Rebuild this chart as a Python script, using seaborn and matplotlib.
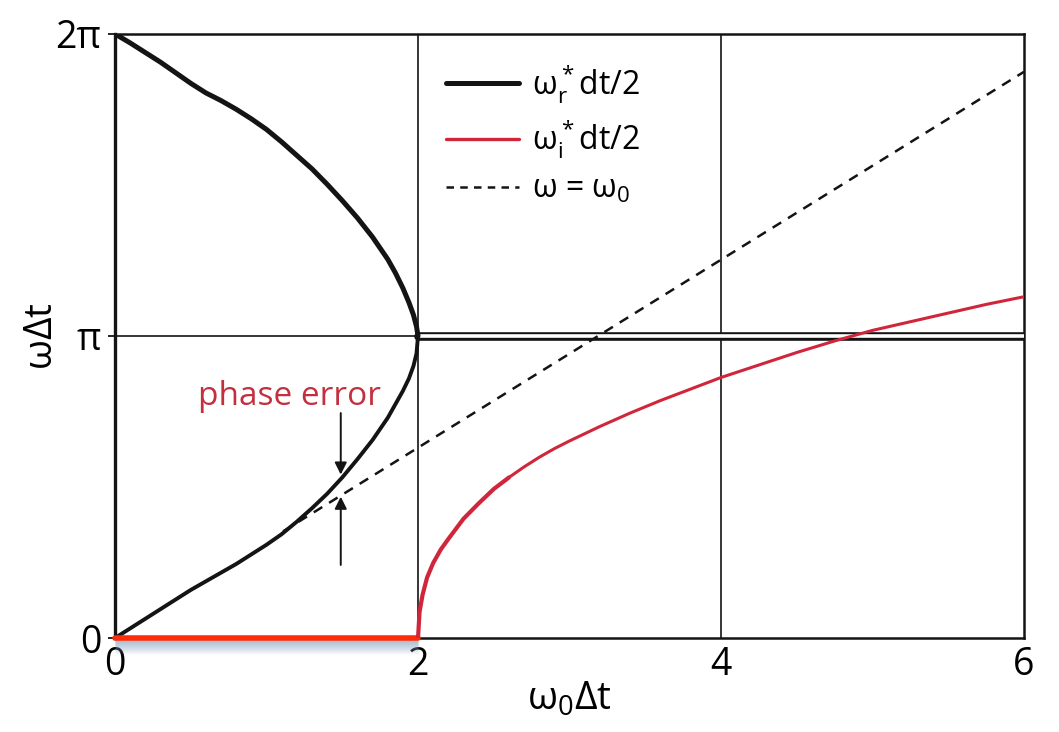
import numpy as np
import matplotlib
matplotlib.use("Agg")
import matplotlib.pyplot as plt
import seaborn as sns
from matplotlib import transforms
from matplotlib.lines import Line2D

# --- data ---------------------------------------------------------------
# real part (omega_r * dt/2), below the critical value omega0*dt = 2
wr_lower_x = [0.0, 0.1, 0.2, 0.3, 0.4, 0.5, 0.6, 0.7, 0.8, 0.9, 1.0, 1.1, 1.2, 1.3,
              1.4, 1.5, 1.6, 1.7, 1.8, 1.85, 1.9, 1.94, 1.97, 1.99, 2.0]
wr_lower_y = [0.0, 0.10, 0.20, 0.30, 0.40, 0.50, 0.59, 0.68, 0.77, 0.87, 0.97, 1.08, 1.21, 1.35,
              1.50, 1.67, 1.86, 2.06, 2.29, 2.43, 2.57, 2.70, 2.83, 2.96, np.pi]
wr_upper_x = [2.0, 1.99, 1.97, 1.94, 1.9, 1.85, 1.8, 1.7, 1.6, 1.5, 1.4, 1.3, 1.2, 1.1,
              1.0, 0.9, 0.8, 0.7, 0.6, 0.5, 0.4, 0.3, 0.2, 0.1, 0.0]
wr_upper_y = [np.pi, 3.24, 3.36, 3.49, 3.64, 3.80, 3.94, 4.17, 4.37, 4.55, 4.72, 4.88, 5.02, 5.16,
              5.29, 5.40, 5.50, 5.59, 5.67, 5.77, 5.88, 5.99, 6.09, 6.19, 2 * np.pi]
# above the critical value the real part stays at pi
wr_flat_x = [2.0, 6.0]
wr_flat_y = [np.pi, np.pi]

# imaginary part (omega_i * dt/2)
wi_zero_x = [0.0, 2.0]
wi_zero_y = [0.0, 0.0]
wi_x = [2.0, 2.01, 2.03, 2.06, 2.1, 2.15, 2.2, 2.3, 2.4, 2.5, 2.6, 2.7, 2.8, 2.9, 3.0,
        3.2, 3.4, 3.6, 3.8, 4.0, 4.25, 4.5, 4.75, 5.0, 5.25, 5.5, 5.75, 6.0]
wi_y = [0.0, 0.27, 0.45, 0.63, 0.78, 0.92, 1.03, 1.24, 1.40, 1.55, 1.67, 1.78, 1.88, 1.97, 2.05,
        2.20, 2.34, 2.47, 2.59, 2.71, 2.84, 2.97, 3.09, 3.20, 3.29, 3.38, 3.47, 3.55]

# exact dispersion omega = omega0
ref_x = [1.11, 6.0]
ref_y = [1.11, 5.89]

# phase-error markers
err_x = 1.49
err_top = [2.34, 1.70]
err_bottom = [0.76, 1.47]

x_ticks = [0, 2, 4, 6]
y_ticks = [0, np.pi, 2 * np.pi]
y_ticklabels = ["0", "π", "2π"]
grid_x = [2, 4]
grid_y = [np.pi]

# --- style --------------------------------------------------------------
sns.set_theme(style="white")
plt.rcParams["font.family"] = ["Open Sans", "DejaVu Sans"]
plt.rcParams["mathtext.fontset"] = "custom"
plt.rcParams["mathtext.rm"] = "Open Sans"
plt.rcParams["mathtext.it"] = "Open Sans"
plt.rcParams["mathtext.default"] = "rm"
for key in ("text.color", "axes.labelcolor", "xtick.color", "ytick.color"):
    plt.rcParams[key] = "black"

BLACK = "#141414"
CRIMSON = "#d0263c"
ORANGE_RED = "#ff2a08"

fig = plt.figure(figsize=(10.59, 7.32), dpi=100)
ax = fig.add_axes([0.1086, 0.1284, 0.8584, 0.8252])

# grid lines
for gx in grid_x:
    ax.axvline(gx, color=BLACK, lw=1.2, zorder=1)
for gy in grid_y:
    ax.axhline(gy, color=BLACK, lw=1.2, zorder=1)

# soft shadow under the zero imaginary part
for k, a in zip(range(2, 16), np.linspace(0.35, 0.03, 14)):
    off = transforms.offset_copy(ax.transData, fig=fig, x=0, y=-k, units="dots")
    ax.plot(wi_zero_x, wi_zero_y, color="#8aa4c2", lw=2.0, alpha=a,
            transform=off, clip_on=False, zorder=2, solid_capstyle="butt")

# real part: lower and upper branches
sns.lineplot(x=wr_lower_x, y=wr_lower_y, sort=False, estimator=None, ax=ax,
             color=BLACK, lw=2.8, zorder=4)
sns.lineplot(x=wr_upper_x, y=wr_upper_y, sort=False, estimator=None, ax=ax,
             color=BLACK, lw=3.6, zorder=4)
# flat part drawn as a double rule
sns.lineplot(x=wr_flat_x, y=wr_flat_y, sort=False, estimator=None, ax=ax,
             color=BLACK, lw=6.2, zorder=3)
sns.lineplot(x=wr_flat_x, y=wr_flat_y, sort=False, estimator=None, ax=ax,
             color="white", lw=2.6, zorder=3.1)

# imaginary part
sns.lineplot(x=wi_zero_x, y=wi_zero_y, sort=False, estimator=None, ax=ax,
             color=ORANGE_RED, lw=4.0, zorder=5)
ax.lines[-1].set_clip_on(False)
sns.lineplot(x=wi_x[:11], y=wi_y[:11], sort=False, estimator=None, ax=ax,
             color=CRIMSON, lw=3.0, zorder=5)
sns.lineplot(x=wi_x[10:], y=wi_y[10:], sort=False, estimator=None, ax=ax,
             color=CRIMSON, lw=2.2, zorder=5)

# omega = omega0
sns.lineplot(x=ref_x, y=ref_y, sort=False, estimator=None, ax=ax,
             color=BLACK, lw=1.8, zorder=4)
ax.lines[-1].set_linestyle((0, (4, 3.2)))

# phase error annotation
ax.text(1.15, 2.42, "phase error", color="#c2303f", fontsize=24,
        ha="center", va="baseline")
ax.annotate("", xy=(err_x, err_top[1]), xytext=(err_x, err_top[0]),
            arrowprops=dict(arrowstyle="-|>", color=BLACK, lw=1.4,
                            mutation_scale=18, shrinkA=0, shrinkB=0))
ax.annotate("", xy=(err_x, err_bottom[1]), xytext=(err_x, err_bottom[0]),
            arrowprops=dict(arrowstyle="-|>", color=BLACK, lw=1.4,
                            mutation_scale=18, shrinkA=0, shrinkB=0))

# axes
ax.set_xlim(0, 6)
ax.set_ylim(0, 2 * np.pi)
ax.set_xticks(x_ticks)
ax.set_xticklabels([str(t) for t in x_ticks], fontsize=27)
ax.set_yticks(y_ticks)
ax.set_yticklabels(y_ticklabels, fontsize=27)
ax.tick_params(axis="x", length=0, pad=6)
ax.tick_params(axis="y", length=5, width=1.2, pad=5, direction="out", left=True)
ax.set_xlabel(r"$\omega_0\Delta t$", fontsize=28, labelpad=-3)
ax.set_ylabel(r"$\omega\Delta t$", fontsize=28, labelpad=-4)
for s in ax.spines.values():
    s.set_visible(True)
    s.set_color(BLACK)
    s.set_linewidth(1.8)
ax.spines["left"].set_linewidth(2.4)

# legend
handles = [
    Line2D([], [], color=BLACK, lw=3.6),
    Line2D([], [], color=CRIMSON, lw=2.4),
    Line2D([], [], color=BLACK, lw=1.8, linestyle=(0, (3, 2.5))),
]
labels = [r"$\omega_r^*$dt/2", r"$\omega_i^*$dt/2", r"$\omega$ = $\omega_0$"]
ax.legend(handles, labels, loc="upper left", bbox_to_anchor=(0.350, 0.974),
          frameon=False, fontsize=23, handlelength=2.3, handletextpad=0.4,
          labelspacing=0.38, borderaxespad=0)

fig.savefig("out.png", dpi=100, facecolor="white")
